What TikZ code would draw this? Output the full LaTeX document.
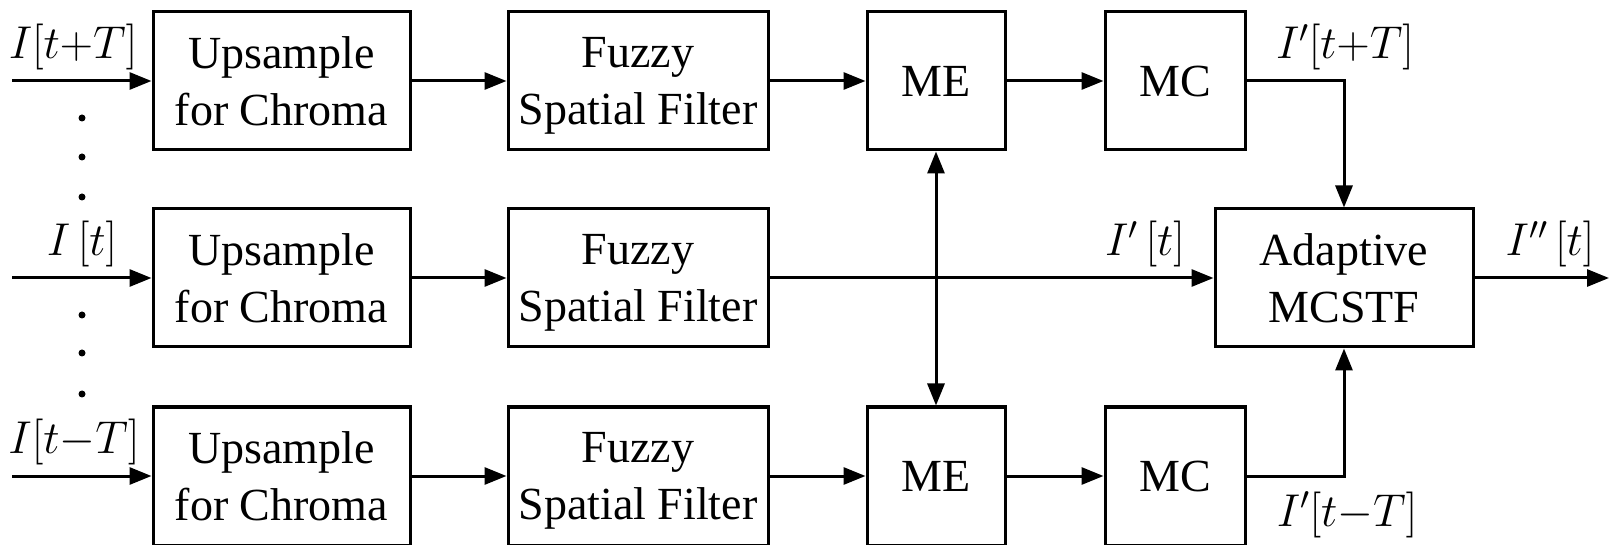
\RequirePackage{fix-cm}
\documentclass[tikz,border=0pt]{standalone}
\usepackage{fontspec}
\setmainfont{LiberationSerif}[Extension=.ttf,UprightFont=*-Regular,BoldFont=*-Bold,ItalicFont=*-Italic,BoldItalicFont=*-BoldItalic]
\usetikzlibrary{arrows.meta}
\newcommand\nodepth[1]{\raisebox{0pt}[\height][0pt]{#1}}
\begin{document}
\begin{tikzpicture}[x=1pt,y=-1pt,line width=3pt,
  box/.style={draw,rectangle,inner sep=0pt,minimum height=138pt,align=center,font=\fontsize{46}{57}\selectfont},
  lbl/.style={anchor=base,inner sep=0pt,font=\fontsize{46}{57}\selectfont},
  arr/.style={-{Triangle[length=22pt,width=17pt]}},
  darr/.style={{Triangle[length=22pt,width=17pt]}-{Triangle[length=22pt,width=17pt]}},
  vdot/.style={circle,fill,inner sep=0pt,minimum size=7pt}]
\useasboundingbox (0,0) rectangle (1610,545);
% boxes
\node[box,minimum width=257pt] (u1) at (281.5,81) {Upsample\\\nodepth{for Chroma}};
\node[box,minimum width=257pt] (u2) at (281.5,278) {Upsample\\\nodepth{for Chroma}};
\node[box,minimum width=257pt] (u3) at (281.5,476) {Upsample\\\nodepth{for Chroma}};
\node[box,minimum width=260pt] (f1) at (638,81) {Fuzzy\\\nodepth{Spatial Filter}};
\node[box,minimum width=260pt] (f2) at (638,278) {Fuzzy\\\nodepth{Spatial Filter}};
\node[box,minimum width=260pt] (f3) at (638,476) {Fuzzy\\\nodepth{Spatial Filter}};
\node[box,minimum width=138pt] (me1) at (936,81) {ME};
\node[box,minimum width=138pt] (me3) at (936,476) {ME};
\node[box,minimum width=140pt] (mc1) at (1175,81) {MC};
\node[box,minimum width=140pt] (mc3) at (1175,476) {MC};
\node[box,minimum width=258pt] (ad) at (1344,278) {Adaptive\\\nodepth{MCSTF}};
% inputs / outputs
\coordinate (in1) at (12,81);
\coordinate (in2) at (12,278);
\coordinate (in3) at (12,476);
\coordinate (out) at (1609,278);
% connectors
\draw[arr] (in1) -- (u1);
\draw[arr] (in2) -- (u2);
\draw[arr] (in3) -- (u3);
\draw[arr] (u1) -- (f1);
\draw[arr] (u2) -- (f2);
\draw[arr] (u3) -- (f3);
\draw[arr] (f1) -- (me1);
\draw[arr] (f3) -- (me3);
\draw[arr] (me1) -- (mc1);
\draw[arr] (me3) -- (mc3);
\draw[arr] (f2) -- (ad);
\draw[darr] (me1) -- (me3);
\draw[arr] (mc1.east) -| (ad.north);
\draw[arr] (mc3.east) -| (ad.south);
\draw[arr] (ad) -- (out);
% labels
\node[lbl] (l1) at (73,59) {$I[t{+}T]$};
\node[lbl] (l2) at (82,256) {$I\left[t\right]$};
\node[lbl] (l3) at (74,453) {$I[t{-}T]$};
\node[lbl] (l4) at (1345,59) {$I'[t{+}T]$};
\node[lbl] (l5) at (1145,256) {$I'\left[t\right]$};
\node[lbl] (l6) at (1550,256) {$I''\left[t\right]$};
\node[lbl] (l7) at (1347,526) {$I'[t{-}T]$};
% dots
\node[vdot] (d1) at (82,118) {};
\node[vdot] (d2) at (82,157) {};
\node[vdot] (d3) at (82,197) {};
\node[vdot] (d4) at (82,315) {};
\node[vdot] (d5) at (82,353) {};
\node[vdot] (d6) at (82,394) {};
\end{tikzpicture}
\end{document}
